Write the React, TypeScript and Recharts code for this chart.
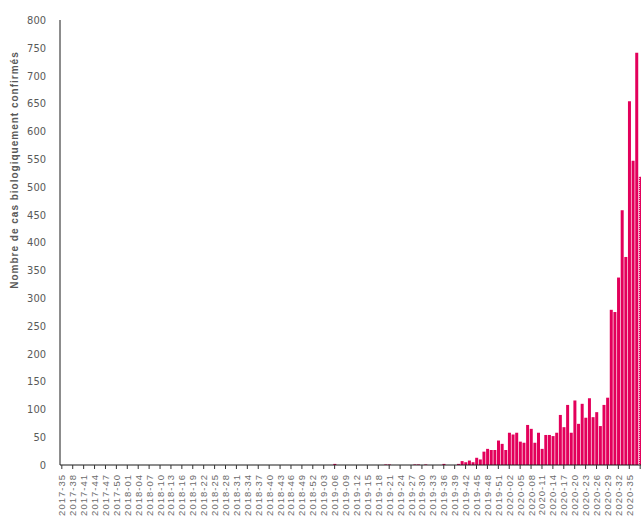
import { Bar, BarChart, Cell, XAxis, YAxis } from "recharts";

// weekly confirmed cases, one array per year (2017 starts at week 35, 2020 stops at week 38)
const cases2017 = [0, 0, 0, 0, 0, 0, 0, 0, 0, 0, 0, 0, 0, 0, 0, 0, 0, 0];
const cases2018 = [
  0, 0, 0, 0, 0, 0, 0, 0, 0, 0, 0, 0, 0, 0, 0, 0, 0, 0, 0, 0, 0, 0, 0, 0, 0, 0,
  0, 0, 0, 0, 0, 0, 0, 0, 0, 0, 0, 0, 0, 0, 0, 0, 0, 0, 0, 0, 0, 0, 0, 0, 0, 0,
];
const cases2019 = [
  0, 0, 0, 0, 0, 2, 0, 0, 0, 0, 0, 0, 0, 0, 0, 0, 0, 0, 0, 1, 1, 0, 0, 0, 0, 0,
  0, 1, 1, 0, 1, 0, 0, 0, 0, 2, 0, 0, 0, 2, 7, 5, 8, 5, 13, 10, 24, 29, 27, 27, 44, 38,
];
const cases2020 = [
  27, 58, 55, 58, 42, 40, 72, 65, 40, 58, 29, 54, 54, 52, 58, 90, 68, 108, 58, 116,
  74, 110, 85, 120, 86, 95, 70, 108, 121, 279, 275, 337, 458, 374, 654, 547, 741, 518,
];
const yTicks = [0, 50, 100, 150, 200, 250, 300, 350, 400, 450, 500, 550, 600, 650, 700, 750, 800];
const partialWeek = "2020-38";

const weekLabels = (year: number, first: number, count: number) =>
  Array.from({ length: count }, (_, k) => `${year}-${String(first + k).padStart(2, "0")}`);

const weeks = [
  ...weekLabels(2017, 35, cases2017.length),
  ...weekLabels(2018, 1, cases2018.length),
  ...weekLabels(2019, 1, cases2019.length),
  ...weekLabels(2020, 1, cases2020.length),
];
const counts = [...cases2017, ...cases2018, ...cases2019, ...cases2020];
const data = weeks.map((week, i) => ({ week, cases: counts[i] }));

const BAR = "#e3005b";
const GREY = "#595959";

function WeekTick(props: any) {
  const { x, y, payload } = props;
  // the partial (last) week has no label in the original
  if (payload.value === partialWeek) return <g />;
  return (
    <g transform={`translate(${x},${y})`}>
      <text
        x={-3}
        y={3.5}
        transform="rotate(-90)"
        textAnchor="end"
        fontSize={9.5}
        letterSpacing={1}
        fill="#6b6b6b"
        fontFamily="'Liberation Sans', Arial, sans-serif"
      >
        {payload.value}
      </text>
    </g>
  );
}

function AxisTitle() {
  return (
    <text
      x={18}
      y={170}
      transform="rotate(-90 18 170)"
      textAnchor="middle"
      fontSize={10}
      fontWeight="bold"
      letterSpacing={1}
      fill={GREY}
      fontFamily="'Liberation Sans', Arial, sans-serif"
    >
      Nombre de cas biologiquement confirmés
    </text>
  );
}

export default function App() {
  return (
    <div
      style={{
        position: "absolute",
        left: 0,
        top: 0,
        width: 641,
        height: 518,
        overflow: "hidden",
        background: "#fff",
      }}
    >
      <BarChart
        width={645}
        height={518}
        data={data}
        margin={{ top: 20, right: 3, bottom: 0, left: 0 }}
        barCategoryGap="14%"
      >
        <defs>
          <pattern id="partial" width={2} height={2} patternUnits="userSpaceOnUse">
            <rect width={2} height={2} fill={BAR} />
            <rect x={1} y={0} width={1} height={1} fill="#f7b3cf" />
          </pattern>
        </defs>
        <XAxis
          dataKey="week"
          interval={2}
          height={53}
          tick={<WeekTick />}
          tickSize={4}
          tickMargin={2}
          axisLine={{ stroke: "#1a1a1a" }}
          tickLine={{ stroke: "#333" }}
        />
        <YAxis
          width={60}
          domain={[0, 800]}
          ticks={yTicks}
          interval={0}
          tickLine={false}
          tickMargin={8}
          axisLine={{ stroke: "#1a1a1a" }}
          tick={{
            fontSize: 11,
            fill: GREY,
            fontFamily: "'Liberation Sans Narrow', 'DejaVu Sans Condensed', sans-serif",
          }}
          label={{ content: () => <AxisTitle /> }}
        />
        <Bar dataKey="cases" fill={BAR} isAnimationActive={false}>
          {data.map((d) => (
            <Cell key={d.week} fill={d.week === partialWeek ? "url(#partial)" : BAR} />
          ))}
        </Bar>
      </BarChart>
    </div>
  );
}
